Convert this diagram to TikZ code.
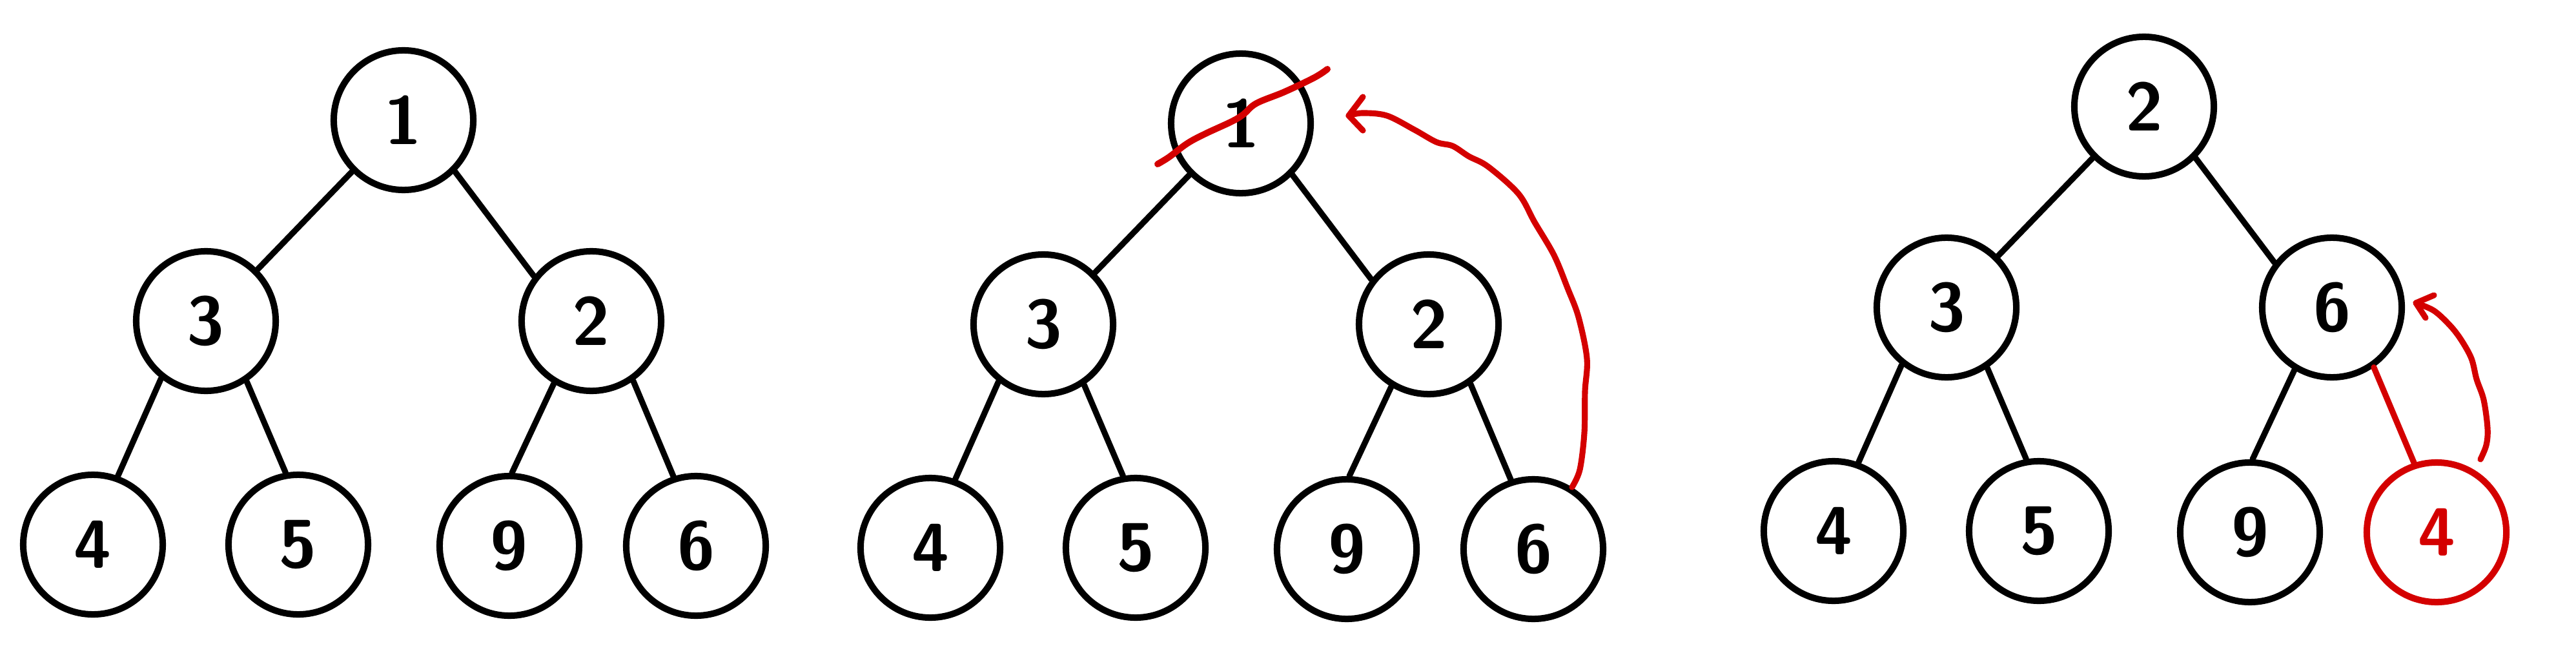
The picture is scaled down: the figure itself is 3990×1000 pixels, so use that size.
\documentclass[tikz,border=0pt]{standalone}
\usetikzlibrary{arrows.meta}
\definecolor{penred}{RGB}{212,0,0}
\begin{document}
\begin{tikzpicture}[x=0.01cm,y=-0.01cm,
  heapnode/.style={circle,draw=black,line width=2.85pt,minimum size=2.16cm,inner sep=0pt,
    font=\sffamily\bfseries\fontsize{30}{34}\selectfont},
  rednode/.style={heapnode,draw=penred,text=penred},
  edge/.style={draw=black,line width=2.6pt,line cap=round},
  rededge/.style={draw=penred,line width=2.6pt,line cap=round},
  penstroke/.style={draw=penred,line width=2.6pt,line cap=round,line join=round},
  crossstroke/.style={draw=penred,line width=2.85pt,line cap=round,line join=round}]
\useasboundingbox[fill=white] (0,0) rectangle (3990,1000);

% ---------- tree 1 ----------
\begin{scope}
\node[heapnode] (ar)  at (625,186) {1};
\node[heapnode] (al)  at (319,497) {3};
\node[heapnode] (am)  at (916,497) {2};
\node[heapnode] (all) at (144,843) {4};
\node[heapnode] (alr) at (462,843) {5};
\node[heapnode] (aml) at (789,845) {9};
\node[heapnode] (amr) at (1078,845) {6};
\draw[edge] (ar.225) -- (al.45);
\draw[edge] (ar.-45) -- (am.142);
\draw[edge] (al.232) -- (all.70);
\draw[edge] (al.-56) -- (alr.100);
\draw[edge] (am.-121) -- (aml.88);
\draw[edge] (am.-55) -- (amr.108);
\end{scope}

% ---------- tree 2 ----------
\begin{scope}[shift={(1297,5)}]
\node[heapnode] (br)  at (625,186) {1};
\node[heapnode] (bl)  at (319,497) {3};
\node[heapnode] (bm)  at (916,497) {2};
\node[heapnode] (bll) at (144,843) {4};
\node[heapnode] (blr) at (462,843) {5};
\node[heapnode] (bml) at (789,845) {9};
\node[heapnode] (bmr) at (1078,845) {6};
\draw[edge] (br.225) -- (bl.45);
\draw[edge] (br.-45) -- (bm.142);
\draw[edge] (bl.232) -- (bll.70);
\draw[edge] (bl.-56) -- (blr.100);
\draw[edge] (bm.-121) -- (bml.88);
\draw[edge] (bm.-55) -- (bmr.108);
\end{scope}
% cross-out of the root
\draw[crossstroke] plot[smooth,tension=0.6] coordinates {(1793,254) (1811,243) (1839,222) (1867,207) (1908,188) (1926,177) (1946,160) (1990,142) (2036,120) (2056,107)};
% arrow from leaf 6 up to the root
\coordinate (tipA) at (2089,179);
\draw[penstroke] plot[smooth,tension=0.55] coordinates {(bmr.58) (2447,727) (2454,670) (2455,606) (2458,555) (2445,491) (2428,446) (2407,395) (2377,344) (2352,300) (2305,258) (2275,242) (2250,226) (2225,220) (2191,201) (2148,179) (2110,175) (tipA)};
\draw[penstroke] (2111,150) -- (tipA) -- (2111,202);

% ---------- tree 3 ----------
\begin{scope}[shift={(2696,-21)}]
\node[heapnode] (cr)  at (625,186) {2};
\node[heapnode] (cl)  at (319,497) {3};
\node[heapnode] (cm)  at (916,497) {6};
\node[heapnode] (cll) at (144,843) {4};
\node[heapnode] (clr) at (462,843) {5};
\node[heapnode] (cml) at (789,845) {9};
\node[rednode]  (cmr) at (1078,845) {4};
\draw[edge] (cr.225) -- (cl.45);
\draw[edge] (cr.-45) -- (cm.142);
\draw[edge] (cl.232) -- (cll.70);
\draw[edge] (cl.-56) -- (clr.100);
\draw[edge] (cm.-121) -- (cml.88);
\draw[rededge] (cm.-55) -- (cmr.108);
\end{scope}
\coordinate (tipC) at (3742,469);
\coordinate (tailC) at (3842,711);
\draw[penstroke] plot[smooth,tension=0.55] coordinates {(tailC) (3851,689) (3853,663) (3847,619) (3836,587) (3828,555) (3812,526) (3795,504) (3770,481) (tipC)};
\draw[penstroke] (3770,457) -- (tipC) -- (3757,492);
\end{tikzpicture}
\end{document}
